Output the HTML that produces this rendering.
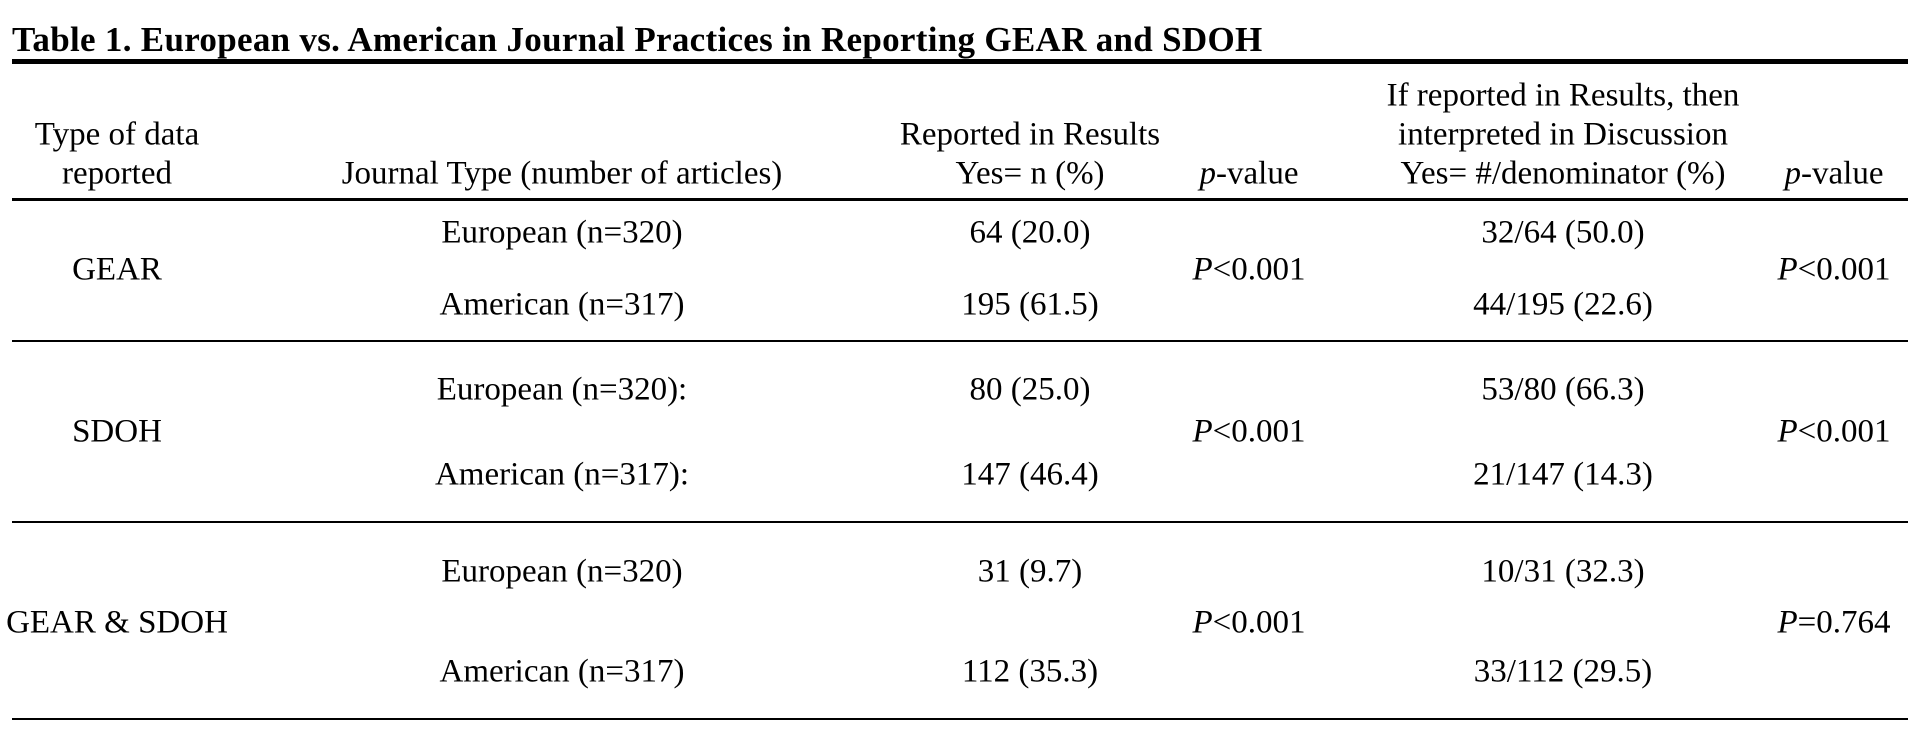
<!DOCTYPE html>
<html><head><meta charset="utf-8"><style>
body{margin:0;width:1926px;height:732px;background:#fff;position:relative;overflow:hidden;font-family:"Liberation Serif","Times New Roman",serif;color:#000}
.t{position:absolute;transform:translate(-50%,-50%);white-space:nowrap;font-size:33px;line-height:1}
.title{position:absolute;left:12px;top:20px;font-weight:bold;font-size:35px;white-space:nowrap;letter-spacing:0.3px}
.rule{position:absolute;left:12px;width:1896px;background:#000}
i{font-style:italic}
</style></head><body>
<div class="title">Table 1. European vs. American Journal Practices in Reporting GEAR and SDOH</div>
<div class="rule" style="top:59px;height:5px"></div>
<div class="t" style="left:117px;top:135px">Type of data</div>
<div class="t" style="left:117px;top:174px">reported</div>
<div class="t" style="left:562px;top:174px">Journal Type (number of articles)</div>
<div class="t" style="left:1030px;top:135px">Reported in Results</div>
<div class="t" style="left:1030px;top:174px">Yes= n (%)</div>
<div class="t" style="left:1249px;top:174px"><i>p</i>-value</div>
<div class="t" style="left:1563px;top:96px">If reported in Results, then</div>
<div class="t" style="left:1563px;top:135px">interpreted in Discussion</div>
<div class="t" style="left:1563px;top:174px">Yes= #/denominator (%)</div>
<div class="t" style="left:1834px;top:174px"><i>p</i>-value</div>
<div class="rule" style="top:198px;height:3px"></div>

<div class="t" style="left:117px;top:270px">GEAR</div>
<div class="t" style="left:562px;top:233px">European (n=320)</div>
<div class="t" style="left:562px;top:305px">American (n=317)</div>
<div class="t" style="left:1030px;top:233px">64 (20.0)</div>
<div class="t" style="left:1030px;top:305px">195 (61.5)</div>
<div class="t" style="left:1249px;top:270px"><i>P</i>&lt;0.001</div>
<div class="t" style="left:1563px;top:233px">32/64 (50.0)</div>
<div class="t" style="left:1563px;top:305px">44/195 (22.6)</div>
<div class="t" style="left:1834px;top:270px"><i>P</i>&lt;0.001</div>
<div class="rule" style="top:340px;height:2px"></div>

<div class="t" style="left:117px;top:432px">SDOH</div>
<div class="t" style="left:562px;top:390px">European (n=320):</div>
<div class="t" style="left:562px;top:475px">American (n=317):</div>
<div class="t" style="left:1030px;top:390px">80 (25.0)</div>
<div class="t" style="left:1030px;top:475px">147 (46.4)</div>
<div class="t" style="left:1249px;top:432px"><i>P</i>&lt;0.001</div>
<div class="t" style="left:1563px;top:390px">53/80 (66.3)</div>
<div class="t" style="left:1563px;top:475px">21/147 (14.3)</div>
<div class="t" style="left:1834px;top:432px"><i>P</i>&lt;0.001</div>
<div class="rule" style="top:521px;height:2px"></div>

<div class="t" style="left:117px;top:623px">GEAR &amp; SDOH</div>
<div class="t" style="left:562px;top:572px">European (n=320)</div>
<div class="t" style="left:562px;top:672px">American (n=317)</div>
<div class="t" style="left:1030px;top:572px">31 (9.7)</div>
<div class="t" style="left:1030px;top:672px">112 (35.3)</div>
<div class="t" style="left:1249px;top:623px"><i>P</i>&lt;0.001</div>
<div class="t" style="left:1563px;top:572px">10/31 (32.3)</div>
<div class="t" style="left:1563px;top:672px">33/112 (29.5)</div>
<div class="t" style="left:1834px;top:623px"><i>P</i>=0.764</div>
<div class="rule" style="top:718px;height:2px"></div>
</body></html>
